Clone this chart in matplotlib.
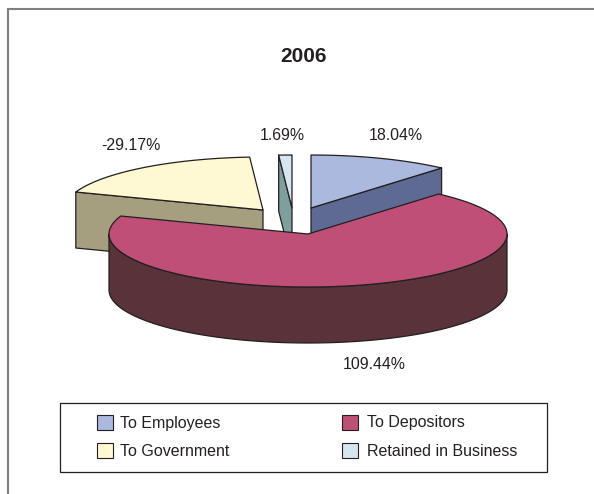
import numpy as np
import matplotlib
matplotlib.use("Agg")
import matplotlib.pyplot as plt
from matplotlib.patches import Polygon, Rectangle

plt.rcParams['font.family'] = ['Liberation Sans', 'DejaVu Sans']

# Distribution of value added, 2006
title = "2006"
categories = ["To Employees", "To Depositors", "To Government", "Retained in Business"]
values = [18.04, 109.44, -29.17, 1.69]
top_colors = ["#AAB9DD", "#C04F78", "#FEF9D3", "#D5E6F0"]
side_colors = ["#5E6A94", "#5A333A", "#A59F80", "#7E9F9C"]

# Pie geometry in canvas pixels, y growing downward
centers = [(311, 208), (308, 234), (263, 210), (292, 208)]
radius_x = 199
radius_y = 53
depth = 56
INK = "#231F20"
EDGE_W = 0.9

fig = plt.figure(figsize=(5.94, 4.94), dpi=100)
ax = fig.add_axes([0, 0, 1, 1])
ax.set_xlim(0, 594)
ax.set_ylim(494, 0)
ax.axis("off")

# Slice angles run clockwise from twelve o'clock, sized by absolute share
shares = np.abs(values)
edges = np.concatenate([[0], np.cumsum(shares)]) / shares.sum() * 2 * np.pi


def rim(center, start, stop, n=120):
    t = np.linspace(start, stop, n)
    return np.column_stack([center[0] + radius_x * np.sin(t),
                            center[1] - radius_y * np.cos(t)])


def draw_slice(i):
    c = np.array(centers[i], float)
    a0, a1 = edges[i], edges[i + 1]
    drop = np.array([0, depth])
    kw = dict(edgecolor=INK, linewidth=EDGE_W, joinstyle="round")

    # Radial wall facing the viewer
    if i == 0:
        p = rim(c, a1, a1, 1)[0]
    else:
        p = rim(c, a0, a0, 1)[0]
    if i == 2 or i == 0:
        ax.add_patch(Polygon([c, p, p + drop, c + drop], facecolor=side_colors[i], **kw))
    if i == 3:
        p = rim(c, a0, a0, 1)[0]
        ax.add_patch(Polygon([p, c, c + drop, p + drop], facecolor=side_colors[i], **kw))

    # Curved outer wall on the near half of the ellipse
    lo, hi = max(a0, np.pi / 2), min(a1, 3 * np.pi / 2)
    if lo < hi:
        arc = rim(c, lo, hi)
        ax.add_patch(Polygon(np.vstack([arc, (arc + drop)[::-1]]),
                             facecolor=side_colors[i], **kw))

    # Top surface
    ax.add_patch(Polygon(np.vstack([c, rim(c, a0, a1)]), facecolor=top_colors[i], **kw))


for i in [2, 3, 0, 1]:
    draw_slice(i)

# Percentage labels
label_pos = [(396, 135), (374, 364), (131, 145), (282, 135)]
for v, (x, y) in zip(values, label_pos):
    ax.text(x, y, f"{v:.2f}%", ha="center", va="center", fontsize=11.4, color=INK)

ax.text(303.5, 57, title, ha="center", va="center", fontsize=15, fontweight="bold", color=INK)

# Legend box with two columns of swatches
ax.add_patch(Rectangle((60, 402.5), 487, 69.5, facecolor="white", edgecolor=INK, linewidth=0.9))
swatch_x = [97, 97, 342, 342]
swatch_y = [414.5, 442.5, 414.5, 442.5]
order = [0, 2, 1, 3]
text_x = [120, 120, 367, 367]
text_y = [423, 451, 422, 451]
for k, i in enumerate(order):
    ax.add_patch(Rectangle((swatch_x[k], swatch_y[k]), 16, 15.5, facecolor=top_colors[i],
                           edgecolor=INK, linewidth=0.8))
    ax.text(text_x[k], text_y[k], categories[i], ha="left", va="center", fontsize=11.5, color=INK)

# Chart frame, cropped at the right and bottom of the canvas
ax.plot([7.5, 7.5, 594], [494, 9, 9], color="#808080", linewidth=1.5, solid_joinstyle="miter")

fig.savefig("out.png", dpi=100, facecolor="white")
